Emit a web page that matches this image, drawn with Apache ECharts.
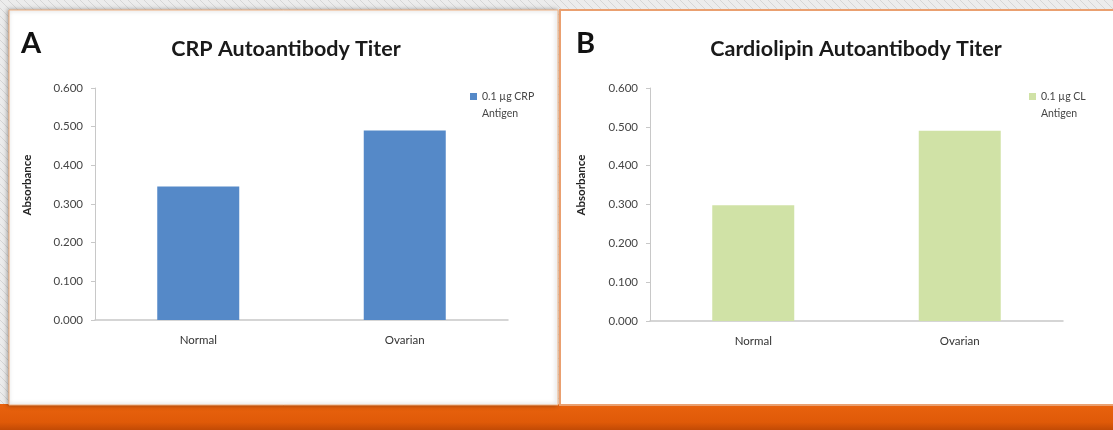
<!DOCTYPE html>
<html><head><meta charset="utf-8">
<script src="https://cdn.jsdelivr.net/npm/echarts@6/dist/echarts.min.js"></script>
<style>html,body{margin:0;padding:0;background:#e9e9e9;}#c{width:1113px;height:430px;}</style>
</head><body><div id="c"></div>
<script>
const categories = ['Normal', 'Ovarian'];
const crpValues = [0.345, 0.490];
const clValues = [0.298, 0.490];
const yTicks = { min: 0, max: 0.6, interval: 0.1 };
const titleA = 'CRP Autoantibody Titer';
const titleB = 'Cardiolipin Autoantibody Titer';
const seriesA = '0.1 µg CRP\nAntigen';
const seriesB = '0.1 µg CL\nAntigen';
const yName = 'Absorbance';

// hatched background pattern
const pc = document.createElement('canvas');
pc.width = 8; pc.height = 8;
const pctx = pc.getContext('2d');
pctx.fillStyle = '#ececec'; pctx.fillRect(0,0,8,8);
pctx.strokeStyle = '#d6d6d6'; pctx.lineWidth = 1;
pctx.beginPath(); pctx.moveTo(0,0); pctx.lineTo(8,8); pctx.stroke();
pctx.beginPath(); pctx.moveTo(-4,4); pctx.lineTo(4,12); pctx.stroke();
pctx.beginPath(); pctx.moveTo(4,-4); pctx.lineTo(12,4); pctx.stroke();

const chart = echarts.init(document.getElementById('c'));
const font = 'Lato, "Open Sans", sans-serif';
// square at top of a taller box so it lines up with the first text line
const legendIcon = 'path://M0,0h7v7h-7z M0,24h0.01v0.01h-0.01z';
function yAxis(gi){
  return {
    type: 'value', gridIndex: gi, min: yTicks.min, max: yTicks.max, interval: yTicks.interval,
    axisLine: { show: true, lineStyle: { color: '#c8c8c8', width: 1 } },
    axisTick: { show: true, length: 4, lineStyle: { color: '#c8c8c8' } },
    splitLine: { show: false },
    axisLabel: { formatter: v => v.toFixed(3), color: '#454545', fontSize: 11.5, fontFamily: font, margin: 12 }
  };
}
function xAxis(gi){
  return {
    type: 'category', gridIndex: gi, data: categories,
    axisLine: { show: true, lineStyle: { color: '#c8c8c8', width: 1.5 } },
    axisTick: { show: false },
    axisLabel: { color: '#333', fontSize: 11.5, fontFamily: font, margin: 14 }
  };
}
chart.setOption({
  backgroundColor: { image: pc, repeat: 'repeat' },
  animation: false,
  graphic: [
    { type: 'rect', shape: { x: 0, y: 404, width: 1113, height: 26 }, z: -1,
      style: { fill: new echarts.graphic.LinearGradient(0,0,0,1,[{offset:0,color:'#e8620e'},{offset:0.7,color:'#e05a08'},{offset:1,color:'#c24a05'}]) } },
    { type: 'rect', shape: { x: 9, y: 10, width: 549, height: 395 }, z: -1,
      style: { fill: '#ffffff', stroke: '#f0b080', lineWidth: 1, shadowBlur: 4, shadowColor: 'rgba(0,0,0,0.35)', shadowOffsetX: -1 } },
    { type: 'rect', shape: { x: 560, y: 10, width: 560, height: 395 }, z: -1,
      style: { fill: '#ffffff', stroke: '#eaa070', lineWidth: 2 } },
    { type: 'text', left: 21, top: 29, z: 5, style: { text: 'A', font: 'bold 29px Lato, sans-serif', fill: '#111' } },
    { type: 'text', left: 576, top: 29, z: 5, style: { text: 'B', font: 'bold 29px Lato, sans-serif', fill: '#111' } },
    { type: 'text', x: 27, y: 185, rotation: Math.PI/2, z: 5,
      style: { text: yName, font: 'bold 11.5px ' + font, fill: '#222', align: 'center', verticalAlign: 'middle' } },
    { type: 'text', x: 581, y: 185, rotation: Math.PI/2, z: 5,
      style: { text: yName, font: 'bold 11.5px ' + font, fill: '#222', align: 'center', verticalAlign: 'middle' } }
  ],
  title: [
    { text: titleA, left: 281, top: 33, textAlign: 'center',
      textStyle: { fontFamily: font, fontWeight: 'bold', fontSize: 21.5, color: '#1a1a1a' } },
    { text: titleB, left: 851, top: 33, textAlign: 'center',
      textStyle: { fontFamily: font, fontWeight: 'bold', fontSize: 21.5, color: '#1a1a1a' } }
  ],
  legend: [
    { data: [seriesA], left: 465, top: 83, itemWidth: 7, itemHeight: 24, itemGap: 3,
      icon: legendIcon, textStyle: { fontSize: 10.5, fontFamily: font, color: '#454545', lineHeight: 17 } },
    { data: [seriesB], left: 1024, top: 83, itemWidth: 7, itemHeight: 24, itemGap: 3,
      icon: legendIcon, textStyle: { fontSize: 10.5, fontFamily: font, color: '#454545', lineHeight: 17 } }
  ],
  grid: [
    { left: 95, top: 88, width: 413, height: 232 },
    { left: 650, top: 88, width: 413, height: 233 }
  ],
  xAxis: [xAxis(0), xAxis(1)],
  yAxis: [yAxis(0), yAxis(1)],
  series: [
    { name: seriesA, type: 'bar', xAxisIndex: 0, yAxisIndex: 0, data: crpValues,
      barWidth: 82, itemStyle: { color: '#5589c8' } },
    { name: seriesB, type: 'bar', xAxisIndex: 1, yAxisIndex: 1, data: clValues,
      barWidth: 82, itemStyle: { color: '#d0e2a6' } }
  ]
});
</script></body></html>
